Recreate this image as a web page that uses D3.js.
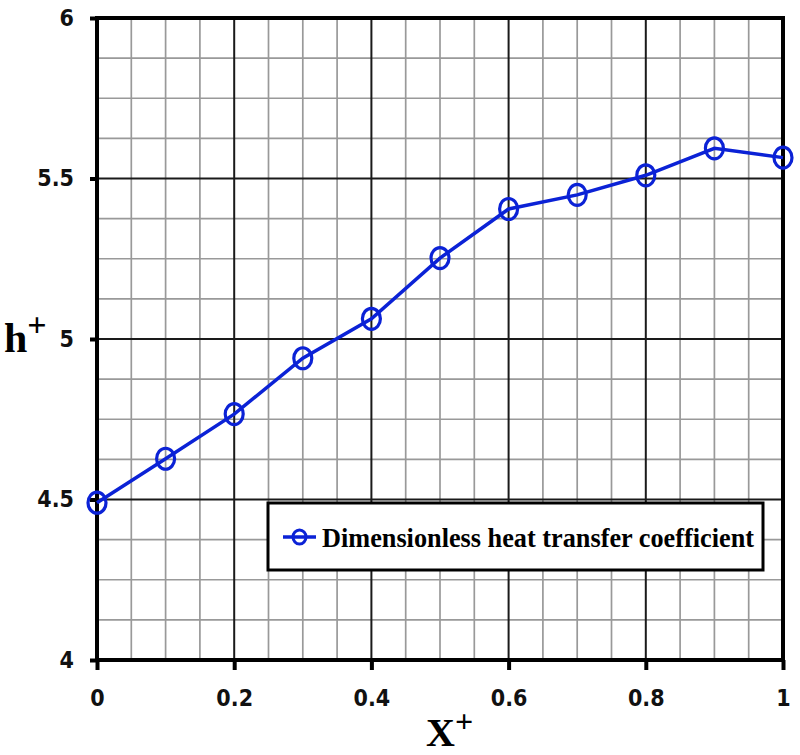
<!DOCTYPE html>
<html>
<head>
<meta charset="utf-8">
<script src="https://cdn.jsdelivr.net/npm/d3@7"></script>
<style>
  html, body { margin: 0; padding: 0; background: #fff; }
  svg { display: block; }
</style>
</head>
<body>
<svg id="chart" width="800" height="755"></svg>
<script>
// ---- data ----
const xValues = [0, 0.1, 0.2, 0.3, 0.4, 0.5, 0.6, 0.7, 0.8, 0.9, 1.0];
const hValues = [4.49, 4.627, 4.766, 4.94, 5.063, 5.252, 5.405, 5.449, 5.51, 5.594, 5.565];
const xTicks = [0, 0.2, 0.4, 0.6, 0.8, 1];
const xTickLabels = ["0", "0.2", "0.4", "0.6", "0.8", "1"];
const yTicks = [4, 4.5, 5, 5.5, 6];
const yTickLabels = ["4", "4.5", "5", "5.5", "6"];
const seriesName = "Dimensionless heat transfer coefficient";

const svg = d3.select("#chart");
const pL = 97, pR = 783, pT = 18, pB = 660;
const x = d3.scaleLinear().domain([0, 1]).range([pL, pR]);
const y = d3.scaleLinear().domain([4, 6]).range([pB, pT]);
const blue = "#0b22d6";

// minor grid
const g = svg.append("g");
const minorX = d3.range(0, 1.0001, 0.05).filter(v => !xTicks.some(t => Math.abs(t - v) < 1e-6));
const minorY = d3.range(4, 6.0001, 0.125).filter(v => !yTicks.some(t => Math.abs(t - v) < 1e-6));
g.selectAll("line.mx").data(minorX).join("line")
  .attr("x1", d => x(d)).attr("x2", d => x(d)).attr("y1", pT).attr("y2", pB)
  .attr("stroke", "#999").attr("stroke-width", 1.7);
g.selectAll("line.my").data(minorY).join("line")
  .attr("x1", pL).attr("x2", pR).attr("y1", d => y(d)).attr("y2", d => y(d))
  .attr("stroke", "#999").attr("stroke-width", 1.7);
// major grid
g.selectAll("line.Mx").data(xTicks.slice(1, -1)).join("line")
  .attr("x1", d => x(d)).attr("x2", d => x(d)).attr("y1", pT).attr("y2", pB)
  .attr("stroke", "#1a1a1a").attr("stroke-width", 2);
g.selectAll("line.My").data(yTicks.slice(1, -1)).join("line")
  .attr("x1", pL).attr("x2", pR).attr("y1", d => y(d)).attr("y2", d => y(d))
  .attr("stroke", "#1a1a1a").attr("stroke-width", 2);

// frame
svg.append("rect").attr("x", pL).attr("y", pT).attr("width", pR - pL).attr("height", pB - pT)
  .attr("fill", "none").attr("stroke", "#000").attr("stroke-width", 4);

// axes
const xAxis = d3.axisBottom(x).tickValues(xTicks).tickFormat((d, i) => xTickLabels[i]).tickSize(10).tickPadding(20);
const yAxis = d3.axisLeft(y).tickValues(yTicks).tickFormat((d, i) => yTickLabels[i]).tickSize(7).tickPadding(16);
const gx = svg.append("g").attr("transform", `translate(0,${pB})`).call(xAxis);
const gy = svg.append("g").attr("transform", `translate(${pL},0)`).call(yAxis);
[gx, gy].forEach(a => {
  a.select(".domain").remove();
  a.selectAll(".tick line").attr("stroke", "#000").attr("stroke-width", 4);
  a.selectAll(".tick text").attr("fill", "#111")
    .style("font-family", "'DejaVu Sans Condensed', 'Liberation Sans', sans-serif")
    .style("font-size", "23px").style("font-weight", "bold");
});

// axis titles
const ht = svg.append("text").attr("x", 4).attr("y", 352)
  .style("font-family", "'Liberation Serif', 'DejaVu Serif', serif").style("font-weight", "bold")
  .style("font-size", "42px").attr("fill", "#000");
ht.append("tspan").text("h");
ht.append("tspan").attr("dy", -16).style("font-size", "34px").text("+");

const xt = svg.append("text").attr("x", 426).attr("y", 746)
  .style("font-family", "'Liberation Serif', 'DejaVu Serif', serif").style("font-weight", "bold")
  .style("font-size", "40px").attr("fill", "#000");
xt.append("tspan").text("X");
xt.append("tspan").attr("dy", -14).style("font-size", "32px").text("+");

// line
const pts = xValues.map((v, i) => [v, hValues[i]]);
svg.append("path").datum(pts)
  .attr("d", d3.line().x(d => x(d[0])).y(d => y(d[1])))
  .attr("fill", "none").attr("stroke", blue).attr("stroke-width", 3.5);
svg.selectAll("ellipse.pt").data(pts).join("ellipse")
  .attr("cx", d => x(d[0])).attr("cy", d => y(d[1]))
  .attr("rx", 9).attr("ry", 10.5)
  .attr("fill", "none").attr("stroke", blue).attr("stroke-width", 3.2);

// legend
const lg = svg.append("g");
lg.append("rect").attr("x", 268).attr("y", 503).attr("width", 495).attr("height", 67)
  .attr("fill", "#fff").attr("stroke", "#000").attr("stroke-width", 3);
lg.append("line").attr("x1", 283).attr("x2", 316).attr("y1", 537).attr("y2", 537)
  .attr("stroke", blue).attr("stroke-width", 3.5);
lg.append("ellipse").attr("cx", 299.5).attr("cy", 537).attr("rx", 6.5).attr("ry", 7)
  .attr("fill", "none").attr("stroke", blue).attr("stroke-width", 3);
lg.append("text").attr("x", 322).attr("y", 547)
  .attr("textLength", 432).attr("lengthAdjust", "spacingAndGlyphs")
  .style("font-family", "'Liberation Serif', 'DejaVu Serif', serif").style("font-weight", "bold")
  .style("font-size", "28px").attr("fill", "#000").text(seriesName);
</script>
</body>
</html>
